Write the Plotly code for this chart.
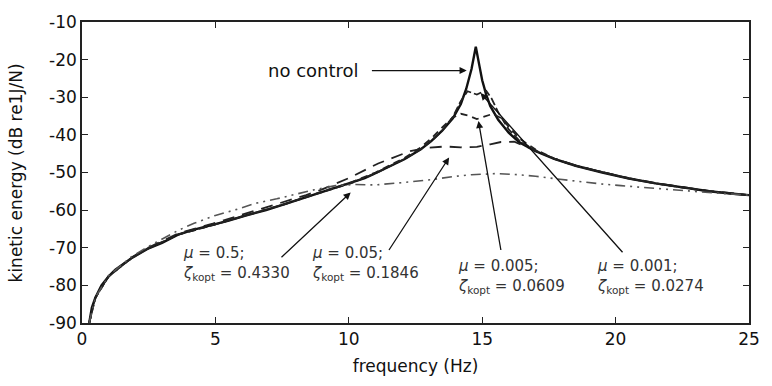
import plotly.graph_objects as go

# ---------------- data ----------------
freq_nc = [0.27, 0.37, 0.5, 0.73, 1.0, 1.25, 1.85, 2.45, 3.0, 3.6, 4.2, 4.9, 5.5, 6.1, 6.9,
           7.6, 8.4, 9.0, 9.6, 10.1, 10.6, 11.0, 11.5, 12.1, 12.7, 13.1, 13.5, 13.9, 14.2,
           14.4, 14.6, 14.76, 14.9, 15.0, 15.15, 15.3, 15.6, 16.0, 16.4, 17.0, 17.7, 18.5,
           19.5, 20.5, 21.5, 22.5, 23.5, 24.5, 25.0]
ke_nc = [-90.0, -85.9, -83.3, -80.0, -77.6, -75.8, -72.8, -70.3, -68.7, -66.5, -65.2, -64.0,
         -62.8, -61.5, -60.0, -58.4, -56.6, -55.2, -53.9, -52.8, -51.5, -50.2, -48.5, -46.4,
         -43.8, -41.6, -38.9, -35.6, -31.8, -27.8, -22.5, -16.6, -21.8, -25.5, -29.3, -32.3,
         -36.0, -39.5, -42.0, -44.3, -46.4, -48.2, -50.0, -51.6, -52.9, -54.0, -55.0, -55.7, -56.0]

freq_m0001 = [0.27, 0.5, 1.0, 1.85, 2.45, 3.6, 4.9, 6.1, 7.6, 9.0, 10.1, 11.0, 12.1, 12.7,
              13.1, 13.5, 13.9, 14.2, 14.45, 14.65, 14.8, 15.0, 15.15, 15.35, 15.6, 16.0,
              16.4, 17.0, 17.7, 18.5, 19.5, 20.5, 21.5, 22.5, 23.5, 24.5, 25.0]
ke_m0001 = [-90.0, -83.3, -77.6, -72.8, -70.3, -66.5, -64.0, -61.5, -58.4, -55.2, -52.8, -50.2,
            -46.4, -43.8, -41.6, -38.9, -35.2, -31.0, -28.4, -28.9, -29.3, -28.6, -28.3, -30.3,
            -34.0, -38.6, -41.6, -44.2, -46.4, -48.2, -50.0, -51.6, -52.9, -54.0, -55.0, -55.7, -56.0]

freq_m0005 = [0.27, 0.5, 1.0, 1.85, 2.45, 3.6, 4.9, 6.1, 7.6, 9.0, 10.1, 11.0, 12.1, 12.7,
              13.1, 13.5, 13.9, 14.2, 14.5, 14.8, 15.1, 15.4, 15.7, 16.0, 16.4, 17.0, 17.7,
              18.5, 19.5, 20.5, 21.5, 22.5, 23.5, 24.5, 25.0]
ke_m0005 = [-90.0, -83.3, -77.6, -72.8, -70.3, -66.5, -64.0, -61.5, -58.4, -55.1, -52.6, -50.0,
            -46.1, -43.3, -40.9, -38.0, -35.4, -34.4, -34.9, -35.8, -35.0, -34.4, -35.5, -37.8,
            -41.0, -43.9, -46.3, -48.2, -50.0, -51.6, -52.9, -54.0, -55.0, -55.7, -56.0]

freq_m005 = [0.27, 0.5, 1.0, 1.85, 2.45, 3.6, 4.9, 6.1, 7.6, 8.4, 9.0, 10.0, 11.1, 12.3, 13.0,
             13.6, 14.2, 14.8, 15.3, 15.7, 16.2, 16.7, 17.2, 17.7, 18.5, 19.5, 20.5, 21.5,
             22.5, 23.5, 24.5, 25.0]
ke_m005 = [-90.0, -83.3, -77.5, -72.6, -70.1, -66.2, -63.6, -61.0, -57.7, -56.0, -54.5, -51.5,
           -47.6, -44.3, -43.4, -43.1, -43.3, -43.2, -42.5, -41.9, -41.8, -43.2, -44.8, -46.3,
           -48.1, -49.9, -51.5, -52.8, -53.9, -54.9, -55.6, -56.0]

freq_m05 = [0.27, 0.5, 1.0, 1.85, 2.45, 3.0, 3.6, 4.2, 5.0, 5.8, 6.5, 7.3, 8.0, 8.7, 9.5, 10.2,
            11.0, 11.4, 12.3, 13.2, 14.0, 14.6, 15.5, 16.2, 17.0, 17.8, 18.6, 19.4, 20.2, 21.1,
            22.0, 22.7, 24.0, 25.0]
ke_m05 = [-90.0, -83.2, -77.4, -72.4, -69.8, -67.8, -65.4, -63.5, -61.4, -59.8, -58.2, -57.0,
          -55.8, -54.6, -53.5, -53.2, -53.3, -53.1, -52.5, -51.8, -51.0, -50.6, -50.3, -50.5,
          -51.0, -51.7, -52.4, -53.0, -53.5, -54.0, -54.5, -55.0, -55.6, -56.0]

x_ticks = [0, 5, 10, 15, 20, 25]
x_ticktext = ["0", "5", "10", "15", "20", "25"]
y_ticks = [-90, -80, -70, -60, -50, -40, -30, -20, -10]
y_ticktext = ["-90", "-80", "-70", "-60", "-50", "-40", "-30", "-20", "-10"]

labels = [
    ("<i>μ</i> = 0.5;<br><i>ζ</i><sub>kopt</sub> = 0.4330", 3.70, -74.2),
    ("<i>μ</i> = 0.05;<br><i>ζ</i><sub>kopt</sub> = 0.1846", 8.53, -74.2),
    ("<i>μ</i> = 0.005;<br><i>ζ</i><sub>kopt</sub> = 0.0609", 14.01, -77.6),
    ("<i>μ</i> = 0.001;<br><i>ζ</i><sub>kopt</sub> = 0.0274", 19.21, -77.6),
]
# arrows: (head x, head y, tail x, tail y) in data units
arrows = [
    (14.42, -22.9, 10.81, -22.9),
    (10.07, -55.3, 7.42, -72.9),
    (13.76, -46.0, 11.47, -71.0),
    (14.86, -36.3, 15.71, -71.0),
    (14.94, -28.9, 20.31, -71.6),
]

FONT = "DejaVu Sans"

fig = go.Figure()
fig.add_trace(go.Scatter(x=freq_nc, y=ke_nc, mode="lines", name="no control",
                         line=dict(color="#111111", width=2.4)))
fig.add_trace(go.Scatter(x=freq_m0001, y=ke_m0001, mode="lines", name="mu=0.001",
                         line=dict(color="#222222", width=1.8, dash="8px,3px")))
fig.add_trace(go.Scatter(x=freq_m0005, y=ke_m0005, mode="lines", name="mu=0.005",
                         line=dict(color="#222222", width=1.8, dash="7px,5px")))
fig.add_trace(go.Scatter(x=freq_m005, y=ke_m005, mode="lines", name="mu=0.05",
                         line=dict(color="#222222", width=1.8, dash="12px,8px")))
fig.add_trace(go.Scatter(x=freq_m05, y=ke_m05, mode="lines", name="mu=0.5",
                         line=dict(color="#555555", width=1.6, dash="10px,5px,2px,5px,2px,5px")))

annotations = []
for hx, hy, tx, ty in arrows:
    annotations.append(dict(x=hx, y=hy, ax=tx, ay=ty, xref="x", yref="y", axref="x", ayref="y",
                            text="", showarrow=True, arrowhead=2, arrowsize=1.1,
                            arrowwidth=1.3, arrowcolor="#111111"))
annotations.append(dict(x=10.44, y=-22.9, xref="x", yref="y", text="no control",
                        showarrow=False, xanchor="right", yanchor="middle",
                        font=dict(family=FONT, size=18, color="#111111")))
for txt, lx, ly in labels:
    annotations.append(dict(x=lx, y=ly, xref="x", yref="y", text=txt, showarrow=False,
                            xanchor="left", yanchor="middle", align="left",
                            font=dict(family=FONT, size=15, color="#333333")))
annotations.append(dict(x=-0.099, y=0.5, xref="paper", yref="paper",
                        text="kinetic energy (dB re1J/N)", textangle=-90, showarrow=False,
                        xanchor="center", yanchor="middle",
                        font=dict(family=FONT, size=17, color="#111111")))

fig.update_layout(
    width=772, height=386, autosize=False,
    margin=dict(l=82, r=12, t=18, b=63),
    paper_bgcolor="white", plot_bgcolor="white",
    showlegend=False,
    font=dict(family=FONT, size=17, color="#111111"),
    annotations=annotations,
)
fig.update_xaxes(range=[0, 25], tickvals=x_ticks, ticktext=x_ticktext,
                 ticks="inside", ticklen=6, tickwidth=1.3, tickcolor="#222222",
                 showline=True, linecolor="#222222", linewidth=1.5, mirror="ticks",
                 showgrid=False, zeroline=False,
                 title=dict(text="frequency (Hz)", standoff=12,
                            font=dict(family=FONT, size=17, color="#111111")),
                 tickfont=dict(family=FONT, size=17, color="#111111"))
fig.update_yaxes(range=[-90, -10], tickvals=y_ticks, ticktext=y_ticktext,
                 ticks="inside", ticklen=6, tickwidth=1.3, tickcolor="#222222",
                 showline=True, linecolor="#222222", linewidth=1.5, mirror="ticks",
                 showgrid=False, zeroline=False,
                 tickfont=dict(family=FONT, size=17, color="#111111"))

fig.write_html("out.html")
